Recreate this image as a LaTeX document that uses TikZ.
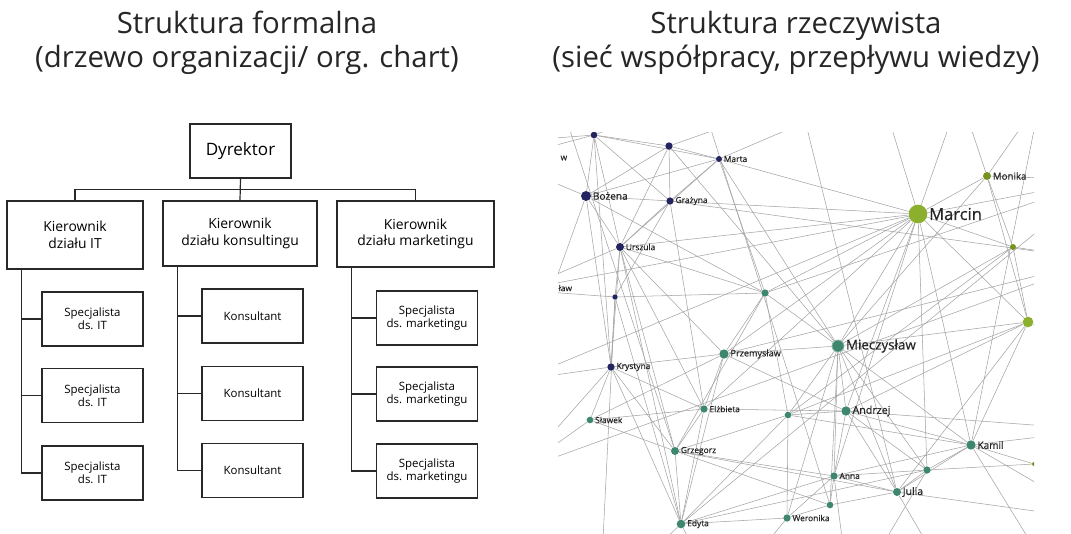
\documentclass[tikz,border=0pt]{standalone}
\usepackage{fontspec}
\setmainfont{Open Sans}
\newfontfamily\netfont[FakeBold=0.6]{Open Sans}
\usetikzlibrary{backgrounds}

\definecolor{navyd}{RGB}{36,36,96}
\definecolor{tealg}{RGB}{62,135,110}
\definecolor{olived}{RGB}{118,146,34}
\definecolor{olivel}{RGB}{140,176,46}
\definecolor{boxline}{RGB}{40,40,40}

\tikzset{
  box/.style={draw=boxline, line width=0.9pt, align=center, inner sep=2pt},
  headbox/.style={box, font=\fontsize{10.4}{12.5}\selectfont},
  smallbox/.style={box, minimum width=75.75pt, minimum height=40.5pt, font=\fontsize{8.6}{10}\selectfont},
  link/.style={draw=boxline, line width=0.9pt},
  title/.style={align=center, font=\fontsize{22}{25.5}\selectfont, text=black!85},
  dot/.style={circle, inner sep=0pt, draw=none, minimum size=#1},
  navydot/.style={dot=#1, fill=navyd},
  tealdot/.style={dot=#1, fill=tealg},
  olivedot/.style={dot=#1, fill=olived},
  lbl/.style={font=\netfont\fontsize{#1}{#1}\selectfont, text=black!85, inner sep=1pt},
  lbl/.default=6.3,
  edge/.style={draw=black!36, line width=0.4pt}
}

\begin{document}
\begin{tikzpicture}[x=0.75pt,y=0.75pt,yscale=-1,xscale=1]
\useasboundingbox (0,0) rectangle (1071,533);

%Titles
\node[title] (tleft) at (247,43) {Struktura formalna\\(drzewo organizacji/ org. chart)};
\node[title] (tright) at (796,43) {Struktura rzeczywista\\(sieć współpracy, przepływu wiedzy)};

%Org chart: top
\node[box, minimum width=75.75pt, minimum height=40.5pt, font=\fontsize{12.8}{15}\selectfont] (dyr) at (240.5,151) {Dyrektor};
%Org chart: heads of departments
\node[headbox, minimum width=102pt, minimum height=51pt] (kit) at (75,235) {Kierownik\\działu IT};
\node[headbox, minimum width=115.5pt, minimum height=48.75pt] (kkons) at (240,233.5) {Kierownik\\działu konsultingu};
\node[headbox, minimum width=117.75pt, minimum height=49.5pt] (kmark) at (415.5,234) {Kierownik\\działu marketingu};
%Org chart: staff
\node[smallbox] (it1) at (92.5,319) {Specjalista\\ds. IT};
\node[smallbox] (it2) at (92.5,395.5) {Specjalista\\ds. IT};
\node[smallbox] (it3) at (92.5,473) {Specjalista\\ds. IT};
\node[smallbox] (ko1) at (252.5,316) {Konsultant};
\node[smallbox] (ko2) at (252.5,393.5) {Konsultant};
\node[smallbox] (ko3) at (252.5,470.5) {Konsultant};
\node[smallbox] (ma1) at (427,318) {Specjalista\\ds. marketingu};
\node[smallbox] (ma2) at (427,394) {Specjalista\\ds. marketingu};
\node[smallbox] (ma3) at (427,471) {Specjalista\\ds. marketingu};

%Org chart: connectors
\draw[link] (dyr.south) -- ++(0,11) -| (kit.north);
\draw[link] (dyr.south) -- (kkons.north);
\draw[link] (dyr.south) -- ++(0,11) -| (kmark.north);
\foreach \h/\c in {kit/it1, kit/it2, kit/it3, kkons/ko1, kkons/ko2, kkons/ko3, kmark/ma1, kmark/ma2, kmark/ma3}
  \draw[link] ([xshift=11.5pt]\h.south west) |- (\c.west);

%Network: people
\begin{scope}
\clip (558,132) rectangle (1034,533);
\node[navydot=5pt] (tn) at (594,135) {};
\node[navydot=5.5pt] (n1) at (669,146) {};
\node[navydot=4.5pt, label={[lbl]right:Marta}] (marta) at (719,159) {};
\node[navydot=7.5pt, label={[lbl=7.6]right:Bożena}] (bozena) at (586,196) {};
\node[navydot=5.5pt, label={[lbl]right:Grażyna}] (grazyna) at (670,201) {};
\node[navydot=6pt, label={[lbl]right:Urszula}] (urszula) at (620,247) {};
\node[navydot=4pt] (n2) at (615,297) {};
\node[navydot=5.5pt, label={[lbl]right:Krystyna}] (krystyna) at (611,367) {};
\node[tealdot=5.5pt] (g1) at (765,293) {};
\node[olivedot=14pt, fill=olivel, label={[lbl=12.4]right:Marcin}] (marcin) at (918,214) {};
\node[olivedot=6pt, label={[lbl=7.3]right:Monika}] (monika) at (987,176) {};
\node[olivedot=4.5pt] (o1) at (1013,247) {};
\node[olivedot=8pt, fill=olivel] (o2) at (1028,322) {};
\node[olivedot=3pt] (o3) at (1034,464) {};
\node[tealdot=7pt, label={[lbl=6.8]right:Przemysław}] (przem) at (724,354) {};
\node[tealdot=5.5pt, label={[lbl]right:Elżbieta}] (elzb) at (704,409) {};
\node[tealdot=5pt, label={[lbl]right:Sławek}] (slawek) at (590,420) {};
\node[tealdot=6pt, label={[lbl]right:Grzegorz}] (grzeg) at (675,451) {};
\node[tealdot=5pt] (g2) at (788,415) {};
\node[tealdot=6.5pt, label={[lbl]right:Edyta}] (edyta) at (681,524) {};
\node[tealdot=5.5pt, label={[lbl]right:Weronika}] (wer) at (787,518) {};
\node[tealdot=9pt, draw=tealg!60, line width=0.6pt, label={[lbl=10]right:Mieczysław}] (miecz) at (838,346) {};
\node[tealdot=7pt, label={[lbl=8]right:Andrzej}] (andrzej) at (846,411) {};
\node[tealdot=7pt, label={[lbl=7.5]right:Kamil}] (kamil) at (971,445) {};
\node[tealdot=5.5pt] (g3) at (927,470) {};
\node[tealdot=5.5pt, label={[lbl]right:Anna}] (anna) at (834,476) {};
\node[tealdot=6pt, label={[lbl=7.8]right:Julia}] (julia) at (897,492) {};
\node[tealdot=5pt] (g4) at (830,505) {};
%names cut by the frame
\node[lbl, anchor=west] (cutw) at (559,158) {w};
\node[lbl, anchor=west] (cutlaw) at (557,288) {ław};
\end{scope}

%Network: points outside the frame
\coordinate (lA) at (530,140);  \coordinate (lB) at (500,160);
\coordinate (lC) at (520,290);  \coordinate (lD) at (520,380);
\coordinate (lE) at (520,470);
\coordinate (tA) at (560,100);  \coordinate (tB) at (700,95);
\coordinate (tC) at (800,100);  \coordinate (tD) at (880,90);
\coordinate (tE) at (960,95);   \coordinate (tF) at (1040,100);
\coordinate (rA) at (1100,180); \coordinate (rB) at (1100,260);
\coordinate (rC) at (1100,360); \coordinate (rD) at (1100,430);
\coordinate (rE) at (1100,520);
\coordinate (bA) at (600,600);  \coordinate (bB) at (720,600);
\coordinate (bC) at (850,600);  \coordinate (bD) at (960,600);
\coordinate (bE) at (1060,590);

%Network: links
\begin{scope}[on background layer]
\clip (558,132) rectangle (1034,533);
\foreach \a/\b in {tn/lA, tn/bozena, tn/grazyna, tn/urszula, tn/n1, tn/marta, tn/lB, tn/krystyna, tn/tB,
  n1/grazyna, n1/marta, n1/bozena, n1/tC, n1/urszula, n1/miecz,
  marta/grazyna, marta/bozena, marta/miecz, marta/g1, marta/marcin, marta/tD, marta/urszula,
  bozena/grazyna, bozena/lB, bozena/lD, bozena/urszula, bozena/g1, bozena/krystyna,
  grazyna/urszula, grazyna/marcin, grazyna/elzb, grazyna/rB, grazyna/n2,
  urszula/lC, urszula/n2, urszula/krystyna, urszula/grzeg, urszula/edyta, urszula/elzb, urszula/marcin, urszula/g1, urszula/przem,
  n2/lC, n2/g1, n2/krystyna, n2/edyta, n2/bA,
  g1/marcin, g1/miecz, g1/przem, g1/g2, g1/rA, g1/grzeg,
  marcin/monika, marcin/o1, marcin/o2, marcin/miecz, marcin/przem, marcin/andrzej, marcin/kamil, marcin/tD, marcin/tE, marcin/elzb, marcin/g3, marcin/anna, marcin/lD,
  monika/tE, monika/tF, monika/rA, monika/o1, monika/o2, monika/miecz,
  o1/o2, o1/rB, o1/miecz, o1/g2,
  o2/miecz, o2/kamil, o2/rC, o2/g2, o2/andrzej, o2/julia,
  krystyna/slawek, krystyna/przem, krystyna/elzb, krystyna/grzeg, krystyna/edyta, krystyna/lE, krystyna/lD,
  slawek/elzb, slawek/grzeg, slawek/lE, slawek/przem,
  przem/elzb, przem/miecz, przem/andrzej, przem/edyta, przem/rB,
  elzb/grzeg, elzb/andrzej, elzb/edyta,
  grzeg/edyta, grzeg/anna, grzeg/g4, grzeg/g2, grzeg/julia,
  g2/miecz, g2/andrzej, g2/wer, g2/kamil, g2/edyta,
  edyta/anna, edyta/wer, edyta/bA, edyta/bB, edyta/g3,
  wer/anna, wer/g4, wer/bB, wer/miecz,
  miecz/andrzej, miecz/anna, miecz/kamil, miecz/julia, miecz/g4, miecz/g3,
  andrzej/anna, andrzej/julia, andrzej/kamil, andrzej/rD, andrzej/g3,
  anna/julia, anna/g3, anna/g4, anna/kamil, anna/bC,
  julia/g3, julia/kamil, julia/g4, julia/bD, julia/rE,
  g3/kamil, g3/o3, g3/bC,
  kamil/o3, kamil/rD, kamil/rE, kamil/bE, o3/rC, o3/bE,
  tA/grzeg, tB/g4, tC/julia, tF/kamil, rA/edyta, lE/rB, lC/rA}
  \draw[edge] (\a) -- (\b);
\end{scope}
\end{tikzpicture}
\end{document}
